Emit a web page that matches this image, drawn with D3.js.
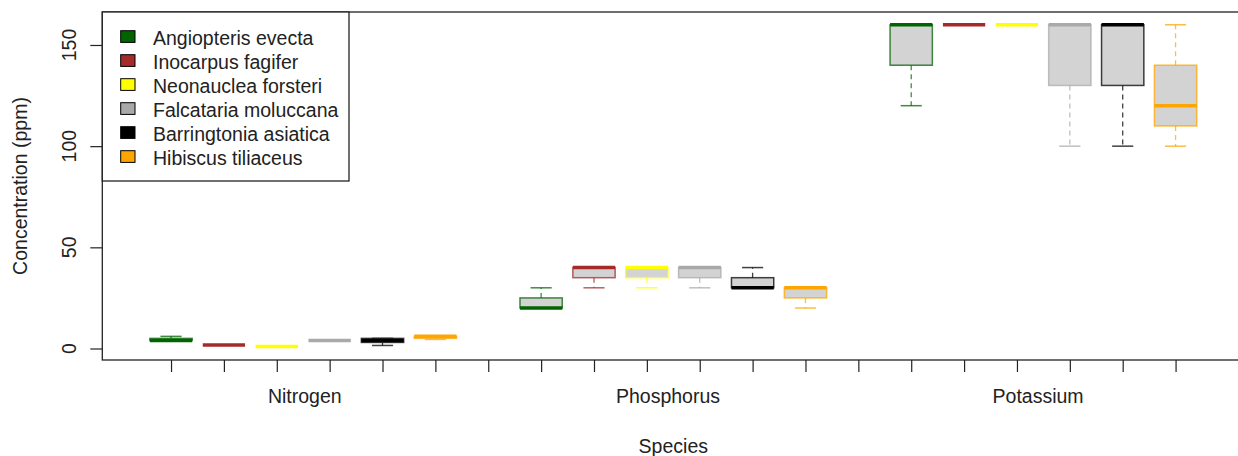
<!DOCTYPE html>
<html>
<head>
<meta charset="utf-8">
<script src="https://cdn.jsdelivr.net/npm/d3@7"></script>
<style>
  html, body { margin: 0; padding: 0; background: #fff; }
  svg { display: block; font-family: "Liberation Sans", Arial, sans-serif; }
</style>
</head>
<body>
<svg id="chart" width="1238" height="456"></svg>
<script>
// ---- Data ----
const nutrients = ["Nitrogen", "Phosphorus", "Potassium"];
const species = ["Angiopteris evecta", "Inocarpus fagifer", "Neonauclea forsteri",
                 "Falcataria moluccana", "Barringtonia asiatica", "Hibiscus tiliaceus"];
const speciesColors = ["#006400", "#A52A2A", "#FFFF00", "#A9A9A9", "#000000", "#FFA500"];
const yTicks = [0, 50, 100, 150];

// five-number summaries, ordered nutrient by nutrient, species within
const minVals = [4, 1.7, 1, 4, 1.5, 4.5,
                 20, 30, 30, 30, 30, 20,
                 120, 160, 160, 100, 100, 100];
const q1Vals  = [4, 1.7, 1, 4, 3, 5,
                 20, 35, 35, 35, 30, 25,
                 140, 160, 160, 130, 130, 110];
const medVals = [4, 1.7, 1, 4, 4, 6,
                 20, 40, 40, 40, 30, 30,
                 160, 160, 160, 160, 160, 120];
const q3Vals  = [5, 1.7, 1, 4, 5, 6,
                 25, 40, 40, 40, 35, 30,
                 160, 160, 160, 160, 160, 140];
const maxVals = [6, 1.7, 1, 4, 5, 6,
                 30, 40, 40, 40, 40, 30,
                 160, 160, 160, 160, 160, 160];

// ---- Layout ----
const svg = d3.select("#chart");
const plotTop = 12, plotBottom = 360;
const x = d3.scaleLinear().domain([-0.3, 21.3]).range([102.3, 1244.3]);
const y = d3.scaleLinear().domain([-5.68, 166.3]).range([plotBottom, plotTop]);
const groupLabelAt = [3.53, 10.4, 17.4];

const boxes = [];
nutrients.forEach((n, ni) => {
  species.forEach((s, si) => {
    const k = ni * species.length + si;
    boxes.push({
      pos: ni * 7 + si + 1,
      color: speciesColors[si],
      min: minVals[k], q1: q1Vals[k], med: medVals[k], q3: q3Vals[k], max: maxVals[k]
    });
  });
});

const unit = x(1) - x(0);
const boxW = unit * 0.8;
const capW = boxW * 0.5;

// ---- Axes ----
const yAxis = d3.axisLeft(y).tickValues(yTicks).tickSize(12).tickFormat("");
const gy = svg.append("g").attr("transform", `translate(${x.range()[0]},0)`).call(yAxis);
gy.select(".domain").remove();
gy.selectAll(".tick line").attr("stroke", "#222").attr("stroke-width", 1.2);

svg.selectAll("text.ytick").data(yTicks).join("text")
  .attr("class", "ytick")
  .attr("transform", d => `translate(76,${y(d)}) rotate(-90)`)
  .attr("text-anchor", "middle")
  .attr("font-size", 19.5)
  .attr("fill", "#222")
  .text(d => d);

const xTickVals = d3.range(1, 21);
const xAxis = d3.axisBottom(x).tickValues(xTickVals).tickSize(12).tickFormat("");
const gx = svg.append("g").attr("transform", `translate(0,${plotBottom})`).call(xAxis);
gx.select(".domain").remove();
gx.selectAll(".tick line").attr("stroke", "#222").attr("stroke-width", 1.2);

svg.selectAll("text.group").data(nutrients).join("text")
  .attr("class", "group")
  .attr("x", (d, i) => x(groupLabelAt[i]))
  .attr("y", 402.5)
  .attr("text-anchor", "middle")
  .attr("font-size", 19.5)
  .attr("fill", "#222")
  .text(d => d);

svg.append("text")
  .attr("x", x(10.5)).attr("y", 453)
  .attr("text-anchor", "middle").attr("font-size", 19.5).attr("fill", "#222")
  .text("Species");

svg.append("text")
  .attr("transform", `translate(27,${(plotTop + plotBottom) / 2}) rotate(-90)`)
  .attr("text-anchor", "middle").attr("font-size", 19.5).attr("fill", "#222")
  .text("Concentration (ppm)");

// ---- Boxes ----
const g = svg.append("g");
const bg = g.selectAll("g.box").data(boxes).join("g").attr("class", "box");

// whiskers (dashed)
bg.append("line")
  .attr("x1", d => x(d.pos)).attr("x2", d => x(d.pos))
  .attr("y1", d => y(d.q3)).attr("y2", d => y(d.max))
  .attr("stroke", d => d.color).attr("stroke-opacity", 0.75).attr("stroke-width", 1.3)
  .attr("stroke-dasharray", "5,4");
bg.append("line")
  .attr("x1", d => x(d.pos)).attr("x2", d => x(d.pos))
  .attr("y1", d => y(d.q1)).attr("y2", d => y(d.min))
  .attr("stroke", d => d.color).attr("stroke-opacity", 0.75).attr("stroke-width", 1.3)
  .attr("stroke-dasharray", "5,4");
// caps
bg.append("line")
  .attr("x1", d => x(d.pos) - capW / 2).attr("x2", d => x(d.pos) + capW / 2)
  .attr("y1", d => y(d.max)).attr("y2", d => y(d.max))
  .attr("stroke", d => d.color).attr("stroke-opacity", 0.75).attr("stroke-width", 1.5);
bg.append("line")
  .attr("x1", d => x(d.pos) - capW / 2).attr("x2", d => x(d.pos) + capW / 2)
  .attr("y1", d => y(d.min)).attr("y2", d => y(d.min))
  .attr("stroke", d => d.color).attr("stroke-opacity", 0.75).attr("stroke-width", 1.5);
// box
bg.append("rect")
  .attr("x", d => x(d.pos) - boxW / 2).attr("width", boxW)
  .attr("y", d => y(d.q3)).attr("height", d => Math.max(0, y(d.q1) - y(d.q3)))
  .attr("fill", "#D3D3D3")
  .attr("stroke", d => d.color).attr("stroke-opacity", 0.75).attr("stroke-width", 1.5);
// median
bg.append("line")
  .attr("x1", d => x(d.pos) - boxW / 2).attr("x2", d => x(d.pos) + boxW / 2)
  .attr("y1", d => y(d.med)).attr("y2", d => y(d.med))
  .attr("stroke", d => d.color).attr("stroke-width", 3.5);

// ---- Frame ----
svg.append("rect")
  .attr("x", x.range()[0]).attr("y", plotTop)
  .attr("width", x.range()[1] - x.range()[0]).attr("height", plotBottom - plotTop)
  .attr("fill", "none").attr("stroke", "#222").attr("stroke-width", 1.3);

// ---- Legend ----
const lg = svg.append("g");
lg.append("rect")
  .attr("x", x.range()[0]).attr("y", plotTop)
  .attr("width", 349 - x.range()[0]).attr("height", 181 - plotTop)
  .attr("fill", "#fff").attr("stroke", "#222").attr("stroke-width", 1.3);
const items = lg.selectAll("g.item").data(species).join("g").attr("class", "item")
  .attr("transform", (d, i) => `translate(0,${30.7 + i * 24})`);
items.append("rect")
  .attr("x", 120.7).attr("y", 0).attr("width", 14.3).attr("height", 11.7)
  .attr("fill", (d, i) => speciesColors[i]).attr("stroke", "#000").attr("stroke-width", 1);
items.append("text")
  .attr("x", 153).attr("y", 14.3)
  .attr("font-size", 19.5).attr("fill", "#222")
  .text(d => d);
</script>
</body>
</html>
